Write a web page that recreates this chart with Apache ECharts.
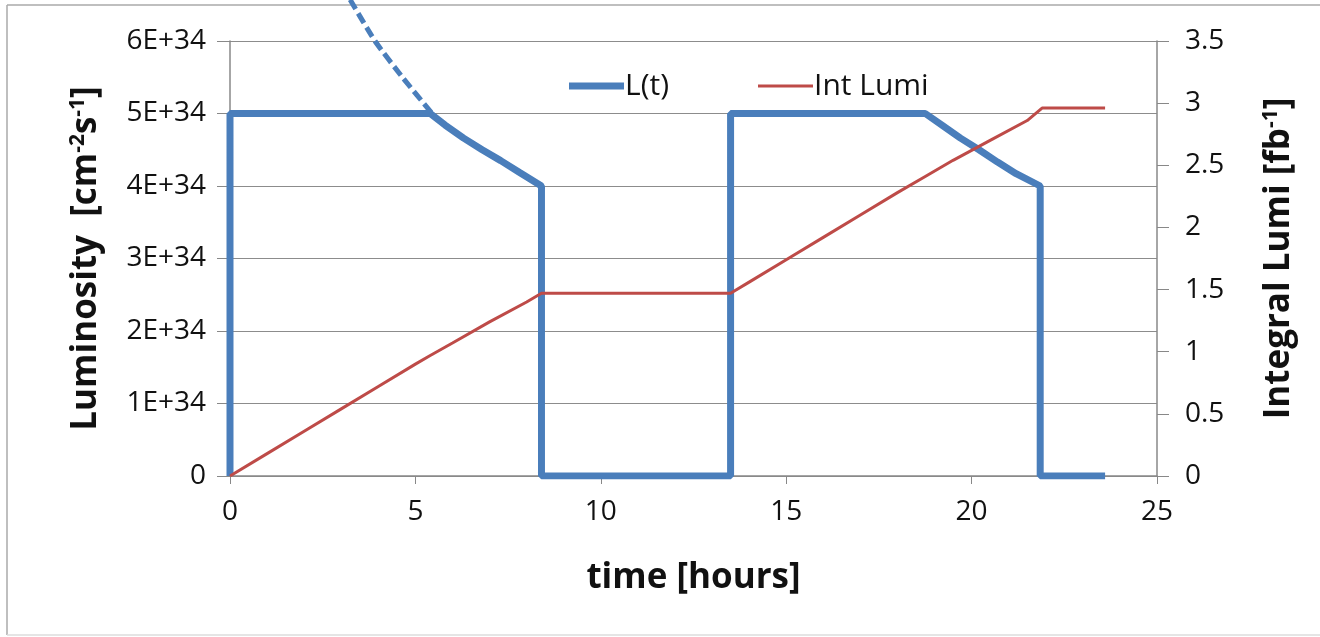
<!DOCTYPE html>
<html>
<head>
<meta charset="utf-8">
<script src="https://cdn.jsdelivr.net/npm/echarts@6/dist/echarts.min.js"></script>
<style>
  html, body { margin: 0; padding: 0; background: #fff; }
  #main { width: 1320px; height: 637px; }
</style>
</head>
<body>
<div id="main"></div>
<script>
// L(t) in cm^-2 s^-1, time in hours
const lumiTime = [0, 0, 5.4, 5.8, 6.3, 6.8, 7.3, 7.8, 8.4, 8.4, 13.5, 13.5, 18.75, 19.2, 19.7, 20.2, 20.7, 21.2, 21.85, 21.85, 23.6];
const lumiValue = [0, 5e34, 5e34, 4.84e34, 4.66e34, 4.5e34, 4.35e34, 4.19e34, 4.0e34, 0, 0, 5e34, 5e34, 4.84e34, 4.66e34, 4.5e34, 4.33e34, 4.17e34, 4.0e34, 0, 0];

// integrated luminosity in fb^-1
const intTime = [0, 1, 2, 3, 4, 5, 5.4, 6, 7, 8, 8.4, 13.5, 14, 15, 16, 17, 18, 18.75, 19.5, 20.5, 21.5, 21.9, 23.6];
const intValue = [0, 0.18, 0.36, 0.54, 0.72, 0.9, 0.97, 1.07, 1.24, 1.4, 1.47, 1.47, 1.56, 1.74, 1.92, 2.1, 2.28, 2.41, 2.54, 2.7, 2.86, 2.96, 2.96];

// dashed annotation line coming in from the top
const arrowTime = [3.24, 3.91, 4.65, 5.45];
const arrowValue = [6.57e34, 6.0e34, 5.5e34, 5e34];

const leftTicks = ['0', '1E+34', '2E+34', '3E+34', '4E+34', '5E+34', '6E+34'];

const FONT = '"Open Sans", "Noto Sans", sans-serif';
const BLUE = '#4a7ebb';
const RED = '#be4b48';

const zip = (xs, ys) => xs.map((x, i) => [x, ys[i]]);

const titleRich = {
  t: { fontSize: 35, fontWeight: 'bold', color: '#111', fontFamily: FONT },
  s: { fontSize: 21, fontWeight: 'bold', color: '#111', fontFamily: FONT, padding: [0, 0, 16, 0] }
};
const legendText = { fontSize: 30, color: '#111', fontFamily: FONT, padding: [0, 0, 0, -4] };

const chart = echarts.init(document.getElementById('main'));
chart.setOption({
  animation: false,
  textStyle: { fontFamily: FONT },
  grid: { left: 230, right: 163, top: 41, bottom: 161 },
  legend: [
    {
      left: 564, top: 66,
      icon: 'rect', itemWidth: 55, itemHeight: 7,
      data: ['L(t)'],
      textStyle: legendText
    },
    {
      left: 753, top: 66,
      icon: 'rect', itemWidth: 55, itemHeight: 3,
      data: ['Int Lumi'],
      textStyle: legendText
    }
  ],
  xAxis: {
    type: 'value',
    min: 0, max: 25, interval: 5,
    name: 'time [hours]',
    nameLocation: 'middle',
    nameGap: 85,
    nameTextStyle: { fontSize: 35, fontWeight: 'bold', color: '#111' },
    axisLine: { lineStyle: { color: '#888', width: 1.5 } },
    axisTick: { inside: false, length: 8, lineStyle: { color: '#888' } },
    axisLabel: { fontSize: 28, color: '#111', margin: 22 },
    splitLine: { show: false }
  },
  yAxis: [
    {
      type: 'value',
      min: 0, max: 6e34, interval: 1e34,
      name: '{t|Luminosity  [cm}{s|-2}{t|s}{s|-1}{t|]}',
      nameLocation: 'middle',
      nameRotate: 90,
      nameGap: 125,
      nameTextStyle: { rich: titleRich },
      axisLine: { show: true, lineStyle: { color: '#888', width: 1.5 } },
      axisTick: { show: true, length: 13, lineStyle: { color: '#888' } },
      axisLabel: {
        fontSize: 28, color: '#111', margin: 24,
        formatter: (v) => leftTicks[Math.round(v / 1e34)]
      },
      splitLine: { lineStyle: { color: '#8c8c8c', width: 1.2 } }
    },
    {
      type: 'value',
      min: 0, max: 3.5, interval: 0.5,
      position: 'right',
      name: '{t|Integral Lumi [fb}{s|-1}{t|]}',
      nameLocation: 'middle',
      nameRotate: 90,
      nameGap: 104,
      nameTextStyle: { rich: titleRich },
      axisLine: { show: true, lineStyle: { color: '#888', width: 1.5 } },
      axisTick: { show: true, length: 12, lineStyle: { color: '#888' } },
      axisLabel: { fontSize: 28, color: '#111', margin: 28 },
      splitLine: { show: false }
    }
  ],
  series: [
    {
      name: 'L(t)',
      type: 'line',
      yAxisIndex: 0,
      data: zip(lumiTime, lumiValue),
      showSymbol: false,
      symbol: 'none',
      lineStyle: { color: BLUE, width: 7 },
      itemStyle: { color: BLUE },
      z: 3
    },
    {
      name: 'Int Lumi',
      type: 'line',
      yAxisIndex: 1,
      data: zip(intTime, intValue),
      showSymbol: false,
      symbol: 'none',
      lineStyle: { color: RED, width: 3 },
      itemStyle: { color: RED },
      z: 4
    },
    {
      name: 'arrow',
      type: 'line',
      yAxisIndex: 0,
      data: zip(arrowTime, arrowValue),
      smooth: 0.2,
      clip: false,
      showSymbol: false,
      symbol: 'none',
      lineStyle: { color: BLUE, width: 5, type: [11, 5] },
      z: 5
    }
  ],
  graphic: [
    { type: 'line', shape: { x1: 7, y1: 5, x2: 1320, y2: 5 }, style: { stroke: '#aaa', lineWidth: 1.5 } },
    { type: 'line', shape: { x1: 7, y1: 5, x2: 7, y2: 635 }, style: { stroke: '#aaa', lineWidth: 1.5 } },
    { type: 'line', shape: { x1: 7, y1: 635, x2: 1320, y2: 635 }, style: { stroke: '#ddd', lineWidth: 1.5 } }
  ]
});
</script>
</body>
</html>
